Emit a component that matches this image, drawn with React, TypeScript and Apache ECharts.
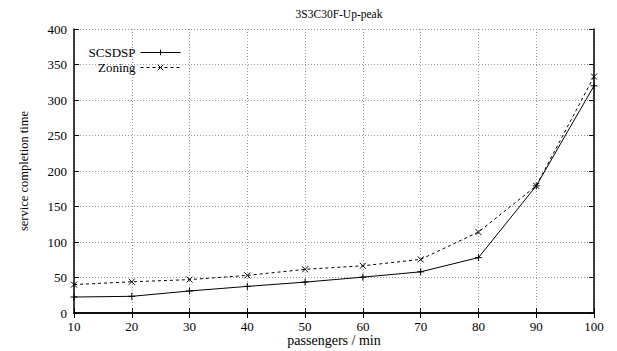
import React, { useEffect, useRef } from "react";
import * as echarts from "echarts";

const passengers = [10, 20, 30, 40, 50, 60, 70, 80, 90, 100];
const scsdsp = [22.5, 23.5, 31, 37.5, 43.5, 50.5, 58, 78, 179, 320];
const zoning = [40, 44, 47, 53, 61.5, 66.5, 75.5, 114, 179, 333];
const titleText = "3S3C30F-Up-peak";
const xName = "passengers / min";
const yName = "service completion time";

const FONT = "'Liberation Serif', 'Times New Roman', serif";

export default function App() {
  const ref = useRef<HTMLDivElement>(null);
  useEffect(() => {
    if (!ref.current) return;
    const chart = echarts.init(ref.current, undefined, { renderer: "svg" });
    const pairs = (ys: number[]) => passengers.map((x, i) => [x, ys[i]]);
    const plus = "path://M0,5 L10,5 M5,0 L5,10";
    const cross = "path://M0,0 L10,10 M10,0 L0,10";
    const axisCommon = {
      axisLine: { show: true, lineStyle: { color: "#000", width: 1.5 } },
      axisTick: { show: true, inside: true, length: 5, lineStyle: { color: "#000", width: 1 } },
    };
    const legendCommon = {
      right: 436,
      align: "right",
      itemWidth: 40,
      itemHeight: 7,
      itemGap: 2,
      padding: 0,
      textStyle: { fontFamily: FONT, fontSize: 13, lineHeight: 13, color: "#000", padding: 0 },
      lineStyle: { width: 1 },
      itemStyle: { borderWidth: 1 },
    };
    chart.setOption({
      animation: false,
      backgroundColor: "#fff",
      textStyle: { fontFamily: FONT },
      title: {
        text: titleText,
        left: 334,
        top: 3,
        textAlign: "center",
        textStyle: { fontFamily: FONT, fontSize: 11.5, fontWeight: "normal", color: "#000" },
      },
      grid: { left: 74, right: 23, top: 29, bottom: 38, outerBoundsMode: "none", containLabel: false },
      legend: [
        { ...legendCommon, data: ["SCSDSP"], top: 46 },
        { ...legendCommon, data: ["Zoning"], top: 61 },
      ],
      xAxis: [
        {
          type: "value",
          min: 10,
          max: 100,
          interval: 10,
          position: "bottom",
          name: xName,
          nameLocation: "middle",
          nameGap: 20,
          nameMoveOverlap: false,
          nameTextStyle: { fontFamily: FONT, fontSize: 14, color: "#000" },
          ...axisCommon,
          axisLabel: { fontFamily: FONT, fontSize: 13, color: "#000", margin: 7 },
          splitLine: { show: true, lineStyle: { color: "#999", type: [1, 2], width: 1 } },
        },
        {
          type: "value",
          min: 10,
          max: 100,
          interval: 10,
          position: "top",
          ...axisCommon,
          axisLabel: { show: false },
          splitLine: { show: false },
        },
      ],
      yAxis: [
        {
          type: "value",
          min: 0,
          max: 400,
          interval: 50,
          position: "left",
          name: yName,
          nameLocation: "middle",
          nameGap: 44,
          nameMoveOverlap: false,
          nameTextStyle: { fontFamily: FONT, fontSize: 12.5, color: "#000" },
          ...axisCommon,
          axisLabel: { fontFamily: FONT, fontSize: 13, color: "#000", margin: 7 },
          splitLine: { show: true, lineStyle: { color: "#999", type: [1, 2], width: 1 } },
        },
        {
          type: "value",
          min: 0,
          max: 400,
          interval: 50,
          position: "right",
          ...axisCommon,
          axisLabel: { show: false },
          splitLine: { show: false },
        },
      ],
      series: [
        {
          name: "SCSDSP",
          type: "line",
          data: pairs(scsdsp),
          symbol: plus,
          symbolSize: 7,
          showAllSymbol: true,
          lineStyle: { color: "#000", width: 1, type: "solid" },
          itemStyle: { color: "#000", borderColor: "#000", borderWidth: 1 },
        },
        {
          name: "Zoning",
          type: "line",
          data: pairs(zoning),
          symbol: cross,
          symbolSize: 6,
          showAllSymbol: true,
          lineStyle: { color: "#000", width: 1, type: [3, 3] },
          itemStyle: { color: "#000", borderColor: "#000", borderWidth: 1 },
        },
      ],
    });
    return () => chart.dispose();
  }, []);
  return <div ref={ref} style={{ width: 617, height: 351, position: "absolute", left: 0, top: 0 }} />;
}
